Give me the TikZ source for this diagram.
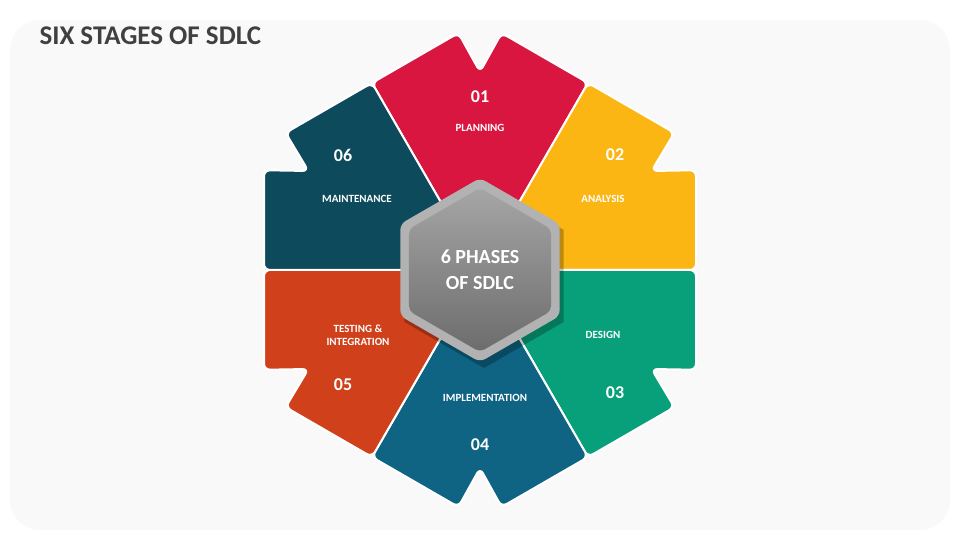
\documentclass[tikz,border=0pt]{standalone}
\usepackage{fontspec}
\setmainfont{Carlito}
\usetikzlibrary{calc}
\definecolor{cA}{HTML}{D9163F}
\definecolor{cB}{HTML}{FBB614}
\definecolor{cC}{HTML}{08A07A}
\definecolor{cD}{HTML}{0E6482}
\definecolor{cE}{HTML}{CF401B}
\definecolor{cF}{HTML}{0D4A5C}
\definecolor{ttl}{HTML}{404040}
\tikzset{
  num/.style={text=white,font=\bfseries\fontsize{18}{20}\selectfont},
  lbl/.style={text=white,font=\fontsize{11}{13}\selectfont\bfseries,align=center},
  sect/.style={draw=white,line width=2pt,rounded corners=6pt,line join=round}
}
\newcommand{\sector}[2]{%
  \coordinate (M1) at ($(C)+(#1-30:216)$);
  \coordinate (M2) at ($(C)+(#1+30:216)$);
  \coordinate (V) at ($(C)+(#1:249.4)$);
  \fill[#2,sect] (C) -- (M1) -- ($(M1)!0.8!(V)$) -- ($(C)+(#1:198)$) -- ($(M2)!0.8!(V)$) -- (M2) -- cycle;
}
\begin{document}
\begin{tikzpicture}[x=1pt,y=1pt]
\useasboundingbox (0,0) rectangle (960,540);
\fill[white] (0,0) rectangle (960,540);
\fill[gray!5,rounded corners=30pt] (10,10) rectangle (950,520);
\node[anchor=west,text=ttl,font=\bfseries\fontsize{27}{30}\selectfont] (title) at (36,504) {SIX STAGES OF SDLC};
\coordinate (C) at (480,270);
\sector{90}{cA}
\sector{30}{cB}
\sector{-30}{cC}
\sector{-90}{cD}
\sector{210}{cE}
\sector{150}{cF}
\fill[black,opacity=0.25] ($(C)+(4,-6)$) ++(90:92) -- ++(-30:92) -- ++(-90:92) -- ++(210:92) -- ++(150:92) -- ++(90:92) -- cycle;
\fill[gray!60!white,rounded corners=6pt] (C) ++(90:92) -- ++(-30:92) -- ++(-90:92) -- ++(210:92) -- ++(150:92) -- ++(90:92) -- cycle;
\shade[top color=gray!70,bottom color=gray!85!black,rounded corners=5pt] (C) ++(90:82) -- ++(-30:82) -- ++(-90:82) -- ++(210:82) -- ++(150:82) -- ++(90:82) -- cycle;
\node[text=white,font=\bfseries\fontsize{20}{26}\selectfont,align=center] (ctr) at (C) {6 PHASES\\OF SDLC};
\node[num] (n1) at (480,443) {01};
\node[lbl] (l1) at (480,412) {PLANNING};
\node[num] (n2) at (615,385) {02};
\node[lbl] (l2) at (603,341) {ANALYSIS};
\node[lbl] (l3) at (603,205) {DESIGN};
\node[num] (n3) at (615,147) {03};
\node[lbl] (l4) at (485,142) {IMPLEMENTATION};
\node[num] (n4) at (480,95) {04};
\node[lbl] (l5) at (358,205) {TESTING \&\\INTEGRATION};
\node[num] (n5) at (343,155) {05};
\node[num] (n6) at (343,385) {06};
\node[lbl] (l6) at (357,341) {MAINTENANCE};
\end{tikzpicture}
\end{document}
